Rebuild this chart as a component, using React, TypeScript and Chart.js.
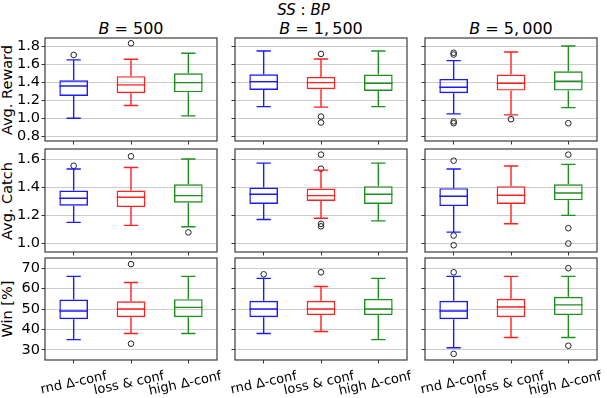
import React, { useEffect, useRef } from 'react';
import { Chart, registerables } from 'chart.js';

Chart.register(...registerables);

// ---------- data ----------
const categories = ['rnd Δ-conf', 'loss & conf', 'high Δ-conf'];
const budgetLabels = ['500', '1,\u2009500', '5,\u2009000'];
const metricLabels = ['Avg. Reward', 'Avg. Catch', 'Win [%]'];
const boxColors = ['#1a1aff', '#ff2020', '#1f8f1f'];

const rewardTicks = [0.8, 1.0, 1.2, 1.4, 1.6, 1.8];
const catchTicks = [1.0, 1.2, 1.4, 1.6];
const winTicks = [30, 40, 50, 60, 70];
const rewardRange = [0.746, 1.897];
const catchRange = [0.94, 1.671];
const winRange = [25, 75];

// each box: [lower whisker, Q1, median, Q3, upper whisker]
const rewardB500 = [[1.0, 1.25, 1.36, 1.425, 1.652], [1.142, 1.28, 1.373, 1.47, 1.659], [1.027, 1.29, 1.398, 1.503, 1.726]];
const rewardB500Out = [[1.707], [1.838], []];
const rewardB1500 = [[1.13, 1.317, 1.41, 1.492, 1.752], [1.124, 1.325, 1.398, 1.462, 1.663], [1.13, 1.306, 1.391, 1.488, 1.752]];
const rewardB1500Out = [[], [1.719, 1.019, 0.952], []];
const rewardB5000 = [[1.049, 1.28, 1.347, 1.44, 1.644], [1.038, 1.309, 1.391, 1.488, 1.741], [1.119, 1.309, 1.414, 1.525, 1.808]];
const rewardB5000Out = [[1.732, 1.712, 0.965, 0.945], [0.99], [0.945]];

const catchB500 = [[1.15, 1.269, 1.321, 1.376, 1.529], [1.129, 1.259, 1.329, 1.376, 1.54], [1.119, 1.29, 1.34, 1.421, 1.6]];
const catchB500Out = [[1.552], [1.619], [1.079]];
const catchB1500 = [[1.171, 1.281, 1.35, 1.397, 1.571], [1.179, 1.302, 1.34, 1.39, 1.521], [1.161, 1.281, 1.35, 1.407, 1.571]];
const catchB1500Out = [[], [1.631, 1.531, 1.14, 1.122], []];
const catchB5000 = [[1.081, 1.266, 1.336, 1.393, 1.529], [1.14, 1.281, 1.343, 1.407, 1.55], [1.2, 1.307, 1.359, 1.421, 1.562]];
const catchB5000Out = [[1.588, 1.057, 0.988], [], [1.631, 1.109, 1.0]];

const winB500 = [[35, 45, 49, 54.6, 66], [38, 46, 50, 53.8, 63], [38, 46, 50.8, 54.8, 66]];
const winB500Out = [[], [72, 33], []];
const winB1500 = [[38, 46, 50, 54, 65], [39, 47, 50, 54, 61], [35, 47, 50, 55, 65]];
const winB1500Out = [[67], [68], []];
const winB5000 = [[31, 45, 49, 54, 66], [36, 46, 51, 55, 66], [36, 47, 52, 56, 66]];
const winB5000Out = [[68, 28], [], [70, 32]];

// ---------- layout ----------
const colLeft = [45, 235, 425];
const rowTop = [38, 149, 258];
const rowHeight = [103, 103, 102];
const plotWidth = 172;
const FONT = 'DejaVu Sans';

type PanelProps = {
  stats: number[][];
  outliers: number[][];
  yTicks: number[];
  yRange: number[];
  decimals: number;
  row: number;
  col: number;
};

function Panel({ stats, outliers, yTicks, yRange, decimals, row, col }: PanelProps) {
  const ref = useRef<HTMLCanvasElement>(null);
  const showY = col === 0;
  const showX = row === 2;
  const padL = showY ? 45 : 14;
  const padB = showX ? 40 : 8;
  const padT = 10;
  const padR = 12;
  const W = plotWidth + padL + padR;
  const H = rowHeight[row] + padT + padB;

  useEffect(() => {
    if (!ref.current) return;
    const boxPlugin = {
      id: 'boxWhiskers',
      afterDatasetsDraw(chart: any) {
        const ctx = chart.ctx;
        const ys = chart.scales.y;
        const meta = chart.getDatasetMeta(0);
        meta.data.forEach((bar: any, i: number) => {
          const s = stats[i];
          const { x, width } = bar.getProps(['x', 'width'], true);
          const half = width / 2;
          const cap = width / 4;
          const py = (v: number) => ys.getPixelForValue(v);
          ctx.save();
          ctx.strokeStyle = boxColors[i];
          ctx.lineWidth = 1.4;
          ctx.beginPath();
          ctx.moveTo(x, py(s[3]));
          ctx.lineTo(x, py(s[4]));
          ctx.moveTo(x, py(s[1]));
          ctx.lineTo(x, py(s[0]));
          ctx.moveTo(x - cap, py(s[4]));
          ctx.lineTo(x + cap, py(s[4]));
          ctx.moveTo(x - cap, py(s[0]));
          ctx.lineTo(x + cap, py(s[0]));
          ctx.moveTo(x - half, py(s[2]));
          ctx.lineTo(x + half, py(s[2]));
          ctx.stroke();
          ctx.restore();
        });
        const a = chart.chartArea;
        ctx.save();
        ctx.strokeStyle = '#3c3c3c';
        ctx.lineWidth = 1.2;
        ctx.strokeRect(a.left, a.top, a.right - a.left, a.bottom - a.top);
        ctx.restore();
      },
    };

    const outlierPoints: { x: string; y: number }[] = [];
    outliers.forEach((arr, i) => arr.forEach((v) => outlierPoints.push({ x: categories[i], y: v })));

    const chart = new Chart(ref.current, {
      type: 'bar',
      data: {
        labels: categories,
        datasets: [
          {
            type: 'bar',
            data: stats.map((s) => [s[1], s[3]]) as any,
            backgroundColor: 'rgba(0,0,0,0)',
            borderColor: boxColors,
            borderWidth: 1.4,
            borderSkipped: false,
            barPercentage: 0.5,
            categoryPercentage: 1,
            order: 2,
          },
          {
            type: 'line',
            data: outlierPoints as any,
            showLine: false,
            pointRadius: 2.8,
            pointBorderWidth: 1,
            pointBorderColor: '#222',
            pointBackgroundColor: 'rgba(0,0,0,0)',
            order: 1,
          } as any,
        ],
      },
      options: {
        responsive: false,
        animation: false,
        events: [],
        layout: { padding: { left: 0, top: padT, right: padR, bottom: 0 } },
        plugins: {
          legend: { display: false },
          tooltip: { enabled: false },
          title: { display: false },
        },
        scales: {
          x: {
            type: 'category',
            offset: true,
            border: { display: false },
            grid: {
              display: true,
              drawOnChartArea: false,
              drawTicks: true,
              tickLength: 3.5,
              tickColor: '#333',
              offset: false,
            },
            ticks: {
              display: showX,
              autoSkip: false,
              minRotation: 12,
              maxRotation: 12,
              padding: 5,
              labelOffset: 33,
              color: '#000',
              font: { family: FONT, size: 13 },
            },
            afterFit: (s: any) => {
              s.height = padB;
              s.paddingLeft = 0;
              s.paddingRight = 0;
              s.paddingTop = 0;
              s.paddingBottom = 0;
            },
          } as any,
          y: {
            type: 'linear',
            min: yRange[0],
            max: yRange[1],
            border: { display: false },
            grid: {
              color: '#cccccc',
              lineWidth: 1,
              drawTicks: true,
              tickLength: 3.5,
              tickColor: '#333',
            },
            ticks: {
              display: showY,
              autoSkip: false,
              padding: 1.5,
              color: '#000',
              font: { family: FONT, size: 14.5 },
              callback: (v: any) => Number(v).toFixed(decimals),
            },
            afterBuildTicks: (s: any) => {
              s.ticks = yTicks.map((v) => ({ value: v }));
            },
            afterFit: (s: any) => {
              s.width = padL;
              s.paddingLeft = 0;
              s.paddingRight = 0;
              s.paddingTop = 0;
              s.paddingBottom = 0;
            },
          } as any,
        },
      },
      plugins: [boxPlugin],
    });
    return () => chart.destroy();
  }, []);

  return (
    <canvas
      ref={ref}
      width={W}
      height={H}
      style={{
        position: 'absolute',
        left: colLeft[col] - padL,
        top: rowTop[row] - padT,
        width: W,
        height: H,
      }}
    />
  );
}

const rows = [
  { stats: [rewardB500, rewardB1500, rewardB5000], out: [rewardB500Out, rewardB1500Out, rewardB5000Out], ticks: rewardTicks, range: rewardRange, dec: 1 },
  { stats: [catchB500, catchB1500, catchB5000], out: [catchB500Out, catchB1500Out, catchB5000Out], ticks: catchTicks, range: catchRange, dec: 1 },
  { stats: [winB500, winB1500, winB5000], out: [winB500Out, winB1500Out, winB5000Out], ticks: winTicks, range: winRange, dec: 0 },
];

export default function App() {
  return (
    <div
      style={{
        position: 'fixed',
        left: 0,
        top: 0,
        width: 607,
        height: 398,
        background: '#fff',
        fontFamily: FONT,
        color: '#000',
        overflow: 'hidden',
      }}
    >
      <div
        style={{
          position: 'absolute',
          left: 303.5,
          top: 3,
          transform: 'translateX(-50%)',
          fontSize: 15,
          lineHeight: '15px',
          whiteSpace: 'nowrap',
        }}
      >
        <i>SS</i> : <i>BP</i>
      </div>
      {budgetLabels.map((b, c) => (
        <div
          key={'t' + c}
          style={{
            position: 'absolute',
            left: colLeft[c] + plotWidth / 2,
            top: 20.8,
            transform: 'translateX(-50%)',
            fontSize: 16,
            lineHeight: '16px',
            whiteSpace: 'nowrap',
          }}
        >
          <i>B</i> = {b}
        </div>
      ))}
      {metricLabels.map((m, r) => (
        <div
          key={'y' + r}
          style={{
            position: 'absolute',
            left: 6.6,
            top: rowTop[r] + rowHeight[r] / 2,
            transform: 'translate(-50%, -50%) rotate(-90deg)',
            fontSize: 14.5,
            lineHeight: '14.5px',
            whiteSpace: 'nowrap',
          }}
        >
          {m}
        </div>
      ))}
      {rows.map((rw, r) =>
        [0, 1, 2].map((c) => (
          <Panel
            key={r + '-' + c}
            stats={rw.stats[c]}
            outliers={rw.out[c]}
            yTicks={rw.ticks}
            yRange={rw.range}
            decimals={rw.dec}
            row={r}
            col={c}
          />
        ))
      )}
    </div>
  );
}
